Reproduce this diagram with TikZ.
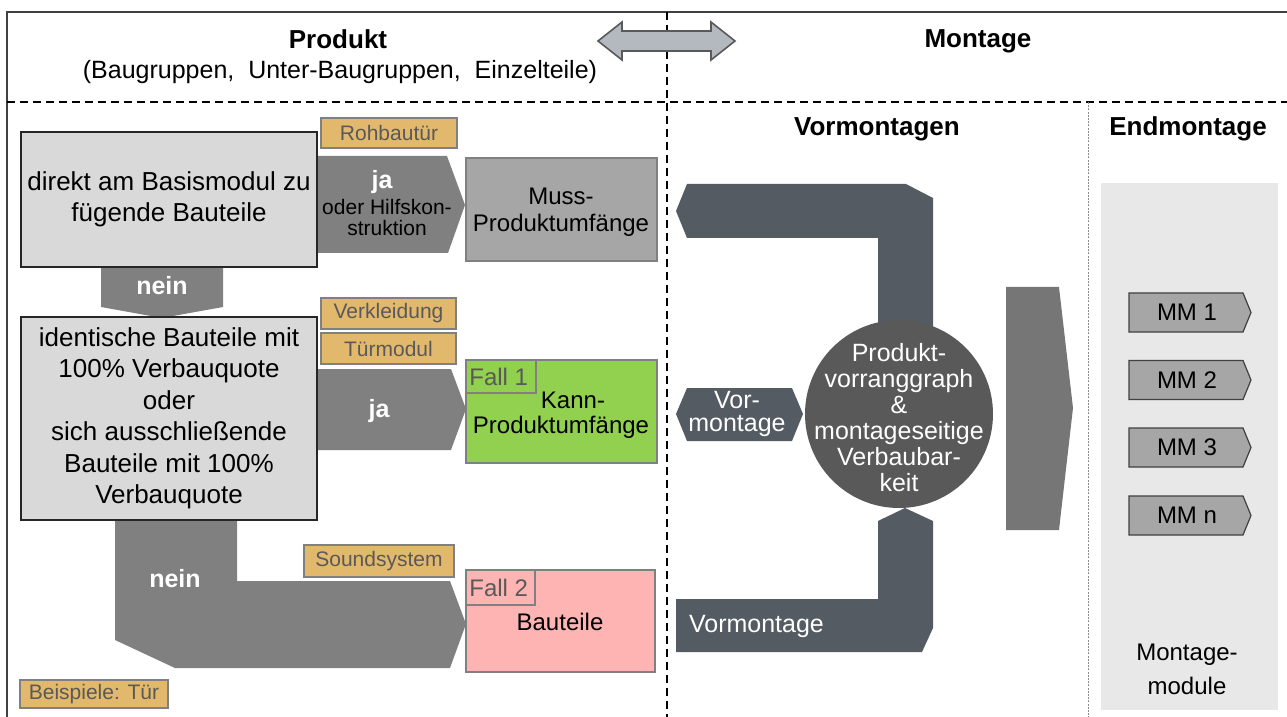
\documentclass[tikz,border=0pt]{standalone}
\usepackage{fontspec}
\setmainfont{Liberation Sans}
\definecolor{boxgray}{HTML}{D9D9D9}
\definecolor{arrowgray}{HTML}{808080}
\definecolor{mussgray}{HTML}{A6A6A6}
\definecolor{tan}{HTML}{E2B96C}
\definecolor{labeltext}{HTML}{595959}
\definecolor{kanngreen}{HTML}{92D050}
\definecolor{pink}{HTML}{FFB4B4}
\definecolor{slate}{HTML}{545B63}
\definecolor{circlegray}{HTML}{595959}
\definecolor{bigarrow}{HTML}{767676}
\definecolor{panel}{HTML}{E8E8E8}
\definecolor{dblarrow}{HTML}{B4B8BF}
\begin{document}
\begin{tikzpicture}[x=0.5pt,y=-0.5pt,
  heading/.style={font=\fontsize{13}{15}\selectfont\bfseries},
  body/.style={font=\fontsize{12}{14.4}\selectfont},
  question/.style={draw=black!85,line width=0.6pt,fill=boxgray,inner sep=0pt,outer sep=0pt,
    align=center,font=\fontsize{13}{15.75}\selectfont},
  tag/.style={draw=arrowgray,line width=1pt,fill=tan,text=labeltext,inner sep=0pt,outer sep=0pt,
    font=\fontsize{10.5}{12}\selectfont},
  result/.style={draw=arrowgray,line width=1.25pt,inner sep=0pt,outer sep=0pt,
    align=center,font=\fontsize{12}{14.4}\selectfont},
  casebox/.style={draw=arrowgray,line width=1.25pt},
  casetext/.style={text=labeltext,anchor=west,inner sep=0pt,font=\fontsize{12}{14.4}\selectfont},
  whitebold/.style={text=white,font=\fontsize{12.5}{15}\selectfont\bfseries},
  whitetext/.style={text=white,align=center,font=\fontsize{12.5}{13}\selectfont},
  armtext/.style={font=\fontsize{10.5}{12}\selectfont},
  mmbox/.style={draw=black!75,line width=0.6pt,fill=mussgray},
  divider/.style={line width=0.8pt,dash pattern=on 4pt off 2.5pt}
]
\useasboundingbox (0,0) rectangle (1287,717);

% frame and section dividers
\draw[line width=1pt,black!75] (7,717) -- (7,12) -- (1287,12);
\draw[divider] (7,102) -- (1287,102);
\draw[divider] (667,12) -- (667,717);
\draw[black!45,line width=0.5pt,dash pattern=on 1pt off 0.6pt] (1088,102) -- (1088,717);

% top double arrow between product and assembly
\draw[fill=dblarrow,draw=black!65,line width=0.8pt]
  (598,41) -- (622,22) -- (622,31) -- (711,31) -- (711,22) -- (735,41)
  -- (711,60) -- (711,51) -- (622,51) -- (622,60) -- cycle;

% headings
\node[heading] (produkt) at (338,39) {Produkt};
\node[font=\fontsize{12.5}{15}\selectfont] (gruppen) at (340,72) {(Baugruppen,\ \ Unter-Baugruppen,\ \ Einzelteile)};
\node[heading] (montage) at (978,41) {Montage};
\node[heading] (vormontagen) at (877,129) {Vormontagen};
\node[heading] (endmontage) at (1188,129) {Endmontage};

% block arrows of the decision flow
\fill[arrowgray] (310,156) -- (447,156) -- (465,205) -- (448,253) -- (310,253) -- cycle;
\fill[arrowgray] (310,369) -- (451,369) -- (466,409) -- (451,450) -- (310,450) -- cycle;
\fill[arrowgray] (101,260) -- (223,260) -- (223,307) -- (162,318) -- (101,307) -- cycle;
\fill[arrowgray] (115,515) -- (237,515) -- (237,581) -- (450,581) -- (466,624)
  -- (450,668) -- (175,668) -- (115,640) -- cycle;

% decision boxes
\node[question,minimum width=148pt,minimum height=67.5pt] (q1) at (169,199.5)
  {direkt am Basismodul zu\\fügende Bauteile};
\node[question,minimum width=148pt,minimum height=101.5pt] (q2) at (169,418.5)
  {identische Bauteile mit\\100\% Verbauquote\\oder\\sich ausschließende\\Bauteile mit 100\%\\Verbauquote};

% arrow labels
\node[whitebold] (ja1) at (382,182) {ja};
\node[armtext] (hilf1) at (387,207) {oder Hilfskon-};
\node[armtext] (hilf2) at (387,228) {struktion};
\node[whitebold] (ja2) at (379,411) {ja};
\node[whitebold] (nein1) at (162,286) {nein};
\node[whitebold] (nein2) at (175,579) {nein};

% example tags
\node[tag,minimum width=68pt,minimum height=15pt] (rohbau) at (389,133) {Rohbautür};
\node[tag,minimum width=67.5pt,minimum height=15.5pt] (verkl) at (388.5,313.5) {Verkleidung};
\node[tag,minimum width=67.5pt,minimum height=15.5pt] (tuer) at (388.5,348.5) {Türmodul};
\node[tag,minimum width=75pt,minimum height=16pt] (sound) at (379,561) {Soundsystem};
\node[tag,minimum width=74pt,minimum height=14pt] (beisp) at (94,694) {Beispiele: Tür};

% result boxes
\node[result,fill=mussgray,minimum width=95.5pt,minimum height=51.5pt] (muss) at (561.5,209.5) {};
\node[body] (musstext1) at (561,196) {Muss-};
\node[body] (musstext2) at (561,225) {Produktumfänge};
\node[result,fill=kanngreen,minimum width=95.5pt,minimum height=51.5pt] (kann) at (561.5,411.5) {};
\draw[casebox] (kann.north west) rectangle (536,393);
\node[casetext] (fall1) at (469,377) {Fall 1};
\node[body] (kanntext1) at (573,400) {Kann-};
\node[body] (kanntext2) at (561,427) {Produktumfänge};
\node[result,fill=pink,minimum width=94.5pt,minimum height=51pt] (bauteile) at (560.5,621) {};
\draw[casebox] (bauteile.north west) rectangle (535,605);
\node[casetext] (fall2) at (469,588) {Fall 2};
\node[body] (bauteiletext) at (560,622) {Bauteile};

% pre-assembly flows around the precedence graph
\fill[slate] (676,211) -- (687,184) -- (906,184) -- (933,198) -- (933,340)
  -- (878,340) -- (878,238) -- (687,238) -- cycle;
\fill[slate] (676,414) -- (687,388) -- (792,388) -- (803,414) -- (792,441) -- (687,441) -- cycle;
\fill[slate] (905,508) -- (933,521) -- (933,628) -- (922,652) -- (676,652)
  -- (676,599) -- (878,599) -- (878,521) -- cycle;
\node[whitetext,font=\fontsize{12.5}{11.5}\selectfont] (vor1) at (737,414) {Vor-\\montage};
\node[whitetext,anchor=west] (vor2) at (682,626) {Vormontage};

\node[circle,fill=circlegray,minimum size=94pt,inner sep=0pt] (graph) at (899,414) {};
\node[whitetext,font=\fontsize{12.5}{13}\selectfont] (graphtext) at (899,418)
  {Produkt-\\vorranggraph\\\&\\montageseitige\\Verbaubar-\\keit};

% flow into final assembly
\fill[bigarrow] (1006,287) -- (1059,287) -- (1073,408) -- (1059,530) -- (1006,530) -- cycle;

% final assembly modules
\fill[panel] (1101,183) rectangle (1278,710);
\foreach \n/\y/\t in {mm1/312.5/MM 1, mm2/380/MM 2, mm3/447.5/MM 3, mmn/515.5/MM n}{
  \draw[mmbox] (1129,\y-19.5) -- (1243,\y-19.5) -- (1251,\y) -- (1243,\y+19.5) -- (1129,\y+19.5) -- cycle;
  \node[body] (\n) at (1187,\y) {\t};
}
\node[body,align=center,font=\fontsize{12}{17}\selectfont] (module) at (1187,669) {Montage-\\module};
\end{tikzpicture}
\end{document}
